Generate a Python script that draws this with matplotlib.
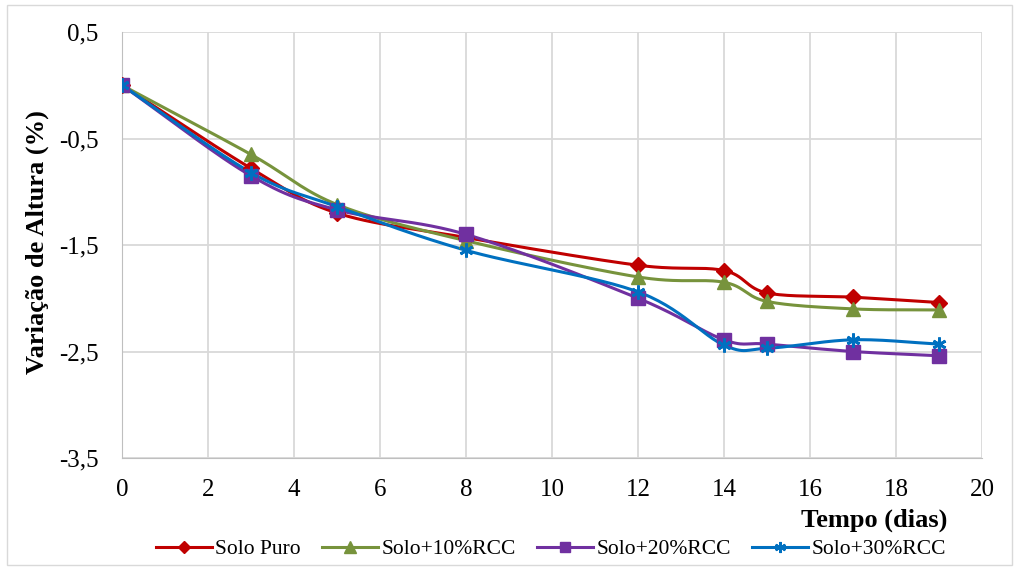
import numpy as np
import matplotlib
matplotlib.use("Agg")
import matplotlib.pyplot as plt
from matplotlib.patches import Rectangle

days = [0, 3, 5, 8, 12, 14, 15, 17, 19]
solo_puro = [0.0, -0.78, -1.20, -1.43, -1.69, -1.74, -1.95, -1.99, -2.04]
solo_10 = [0.0, -0.65, -1.12, -1.46, -1.80, -1.85, -2.03, -2.10, -2.11]
solo_20 = [0.0, -0.85, -1.17, -1.40, -2.00, -2.39, -2.43, -2.50, -2.54]
solo_30 = [0.0, -0.82, -1.14, -1.55, -1.94, -2.44, -2.47, -2.39, -2.43]
x_ticks = [0, 2, 4, 6, 8, 10, 12, 14, 16, 18, 20]
y_ticks = [0.5, -0.5, -1.5, -2.5, -3.5]

series = [
    ("Solo Puro", solo_puro, "#C00000", "D", 8),
    ("Solo+10%RCC", solo_10, "#77933C", "^", 10),
    ("Solo+20%RCC", solo_20, "#7030A0", "s", 9.5),
    ("Solo+30%RCC", solo_30, "#0070C0", (6, 2, 0), 10),
]


def smooth(x, y, n=30, tension=0.5):
    x = np.asarray(x, float)
    y = np.asarray(y, float)
    px = np.concatenate([[2 * x[0] - x[1]], x, [2 * x[-1] - x[-2]]])
    py = np.concatenate([[2 * y[0] - y[1]], y, [2 * y[-1] - y[-2]]])
    outx, outy = [], []
    for i in range(1, len(px) - 2):
        p0, p1, p2, p3 = (np.array([px[j], py[j]]) for j in (i - 1, i, i + 1, i + 2))
        c1 = p1 + (p2 - p0) * tension / 3
        c2 = p2 - (p3 - p1) * tension / 3
        t = np.linspace(0, 1, n)[:, None]
        b = (1 - t) ** 3 * p1 + 3 * (1 - t) ** 2 * t * c1 + 3 * (1 - t) * t ** 2 * c2 + t ** 3 * p2
        outx.extend(b[:, 0])
        outy.extend(b[:, 1])
    return outx, outy


plt.rcParams["font.family"] = ["Liberation Serif", "DejaVu Serif"]

fig = plt.figure(figsize=(10.15, 5.67), dpi=100)
ax = fig.add_axes([122 / 1015, 1 - 458 / 567, (982 - 122) / 1015, (458 - 32) / 567])

handles = []
for name, vals, color, marker, ms in series:
    sx, sy = smooth(days, vals)
    ax.plot(sx, sy, color=color, lw=2.2, zorder=3)
    ax.plot(days, vals, ls="none", marker=marker, color=color, ms=ms,
            mew=2 if marker == (6, 2, 0) else 1, zorder=4)
    h, = ax.plot([], [], color=color, lw=2.2, marker=marker, ms=ms * 0.8,
                 mew=1.5 if marker == (6, 2, 0) else 1, label=name)
    handles.append(h)

ax.set_xlim(0, 20)
ax.set_ylim(-3.5, 0.5)
ax.set_xticks(x_ticks)
ax.set_yticks(y_ticks)
ax.set_yticklabels([f"{v:.1f}".replace(".", ",") for v in y_ticks])
ax.grid(True, color="#D9D9D9", lw=1.3)
ax.set_axisbelow(True)
for s in ["top", "right"]:
    ax.spines[s].set_visible(False)
for s in ["left", "bottom"]:
    ax.spines[s].set_color("#BFBFBF")
ax.tick_params(length=0, labelsize=18)
ax.tick_params(axis="y", pad=17)
ax.tick_params(axis="x", pad=15)

fig.text(37 / 1015, 1 - 242 / 567, "Variação de Altura (%)", fontsize=19,
         fontweight="bold", rotation=90, ha="center", va="center")
fig.text(947 / 1015, 1 - 520 / 567, "Tempo (dias)", fontsize=19, fontweight="bold",
         ha="right", va="center")

fig.legend(handles=handles, loc="center", bbox_to_anchor=(551 / 1015, 1 - 549 / 567),
           ncol=4, frameon=False, fontsize=15.5, handlelength=2.6, columnspacing=1.0,
           handletextpad=0.15, borderpad=0)

fig.patches.append(Rectangle((7 / 1015, 2 / 567), 1005 / 1015, 560 / 567,
                             transform=fig.transFigure, fill=False,
                             edgecolor="#D9D9D9", lw=1))

fig.savefig("out.png", dpi=100)
